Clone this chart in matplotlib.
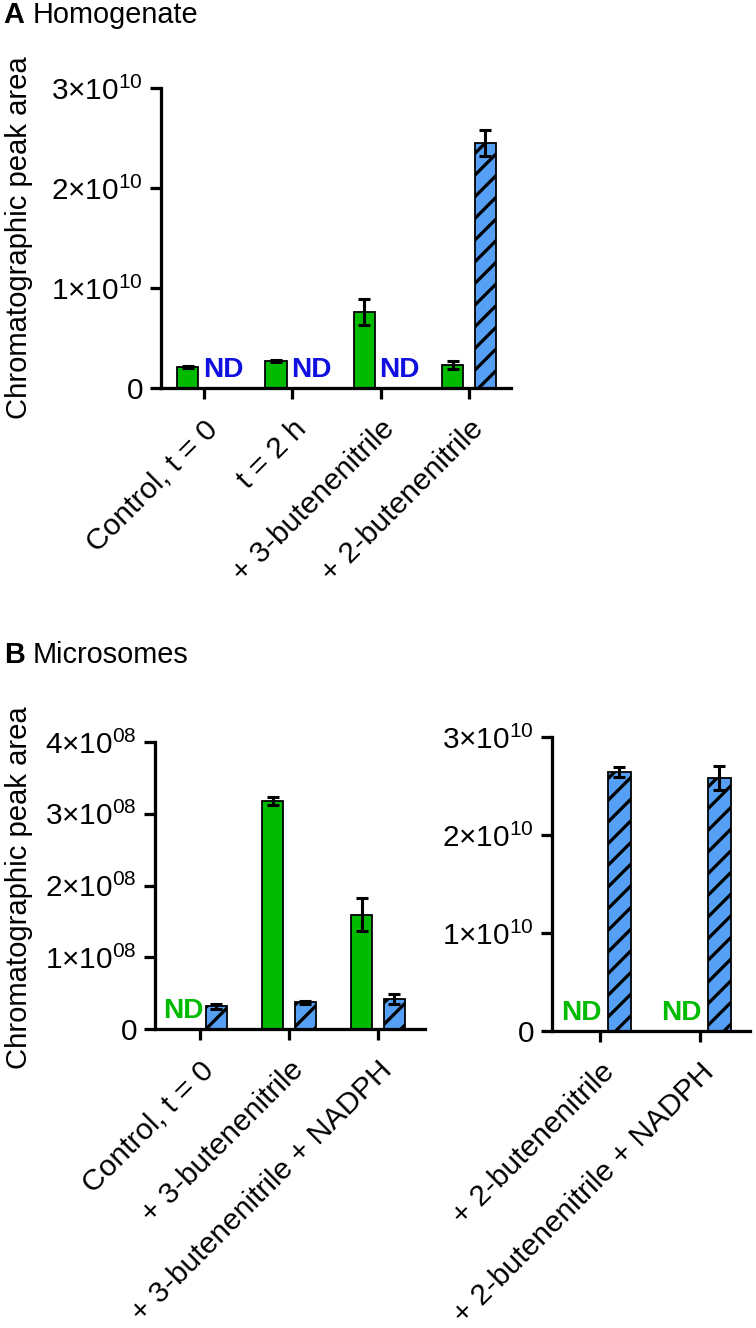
import numpy as np
import matplotlib
matplotlib.use("Agg")
import matplotlib.pyplot as plt

# ---------------- data ----------------
cats_A = ["Control, t = 0", "t = 2 h", "+ 3-butenenitrile", "+ 2-butenenitrile"]
green_A = [2.1e9, 2.7e9, 7.6e9, 2.33e9]
green_A_err = [0.12e9, 0.1e9, 1.3e9, 0.4e9]
blue_A = [np.nan, np.nan, np.nan, 2.45e10]
blue_A_err = [np.nan, np.nan, np.nan, 0.13e10]
yticks_A = [0, 1e10, 2e10, 3e10]
yticklabels_A = ["0", "1×10$^{10}$", "2×10$^{10}$", "3×10$^{10}$"]

cats_BL = ["Control, t = 0", "+ 3-butenenitrile", "+ 3-butenenitrile + NADPH"]
green_BL = [np.nan, 3.18e8, 1.59e8]
green_BL_err = [np.nan, 0.06e8, 0.23e8]
blue_BL = [0.32e8, 0.37e8, 0.42e8]
blue_BL_err = [0.035e8, 0.02e8, 0.07e8]
yticks_BL = [0, 1e8, 2e8, 3e8, 4e8]
yticklabels_BL = ["0", "1×10$^{08}$", "2×10$^{08}$", "3×10$^{08}$", "4×10$^{08}$"]

cats_BR = ["+ 2-butenenitrile", "+ 2-butenenitrile + NADPH"]
green_BR = [np.nan, np.nan]
green_BR_err = [np.nan, np.nan]
blue_BR = [2.64e10, 2.58e10]
blue_BR_err = [0.05e10, 0.12e10]
yticks_BR = [0, 1e10, 2e10, 3e10]
yticklabels_BR = ["0", "1×10$^{10}$", "2×10$^{10}$", "3×10$^{10}$"]

# ---------------- style ----------------
plt.rcParams['font.family'] = ['Liberation Sans', 'DejaVu Sans']
plt.rcParams['mathtext.fontset'] = 'custom'
plt.rcParams['mathtext.rm'] = 'Liberation Sans'
plt.rcParams['mathtext.it'] = 'Liberation Sans:italic'
plt.rcParams['mathtext.bf'] = 'Liberation Sans:bold'
plt.rcParams['mathtext.default'] = 'regular'
plt.rcParams['hatch.linewidth'] = 1.8

GREEN = '#00bb00'
BLUE = '#55a0f5'
ND_BLUE = '#1010e0'
ND_GREEN = '#00bb00'

DPI = 130
W, H = 756, 1328
fig = plt.figure(figsize=(W / DPI, H / DPI), dpi=DPI)

TICK_FS = 16.5
CAT_FS = 16.6
ND_FS = 15.5
YLAB_FS = 16.2


def px_axes(left, right, bottom, top):
    return fig.add_axes([left / W, 1 - bottom / H, (right - left) / W, (bottom - top) / H])


def draw_panel(ax, cats, green, green_err, blue, blue_err, yticks, yticklabels,
               xlim, nd_color, width=0.24, off=0.185):
    x = np.arange(len(cats))
    g = np.array(green, dtype=float)
    b = np.array(blue, dtype=float)
    ymax = yticks[-1]
    ekw = dict(fmt='none', ecolor='black', elinewidth=1.7, capsize=3.4, capthick=1.7,
               zorder=3, clip_on=False)
    for i in range(len(cats)):
        if not np.isnan(g[i]):
            ax.bar(x[i] - off, g[i], width, color=GREEN, edgecolor='black', linewidth=1.0, zorder=2)
            ax.errorbar(x[i] - off, g[i], yerr=green_err[i], **ekw)
        else:
            ax.annotate("ND", xy=(x[i] - off, 0), xytext=(0, 3), textcoords='offset points',
                        ha='center', va='bottom', fontsize=ND_FS, fontweight='bold', color=nd_color)
        if not np.isnan(b[i]):
            ax.bar(x[i] + off, b[i], width, color=BLUE, edgecolor='black', linewidth=1.0,
                   hatch='//', zorder=2)
            ax.errorbar(x[i] + off, b[i], yerr=blue_err[i], **ekw)
        else:
            ax.annotate("ND", xy=(x[i] + off + 0.03, 0), xytext=(0, 3), textcoords='offset points',
                        ha='center', va='bottom', fontsize=ND_FS, fontweight='bold', color=nd_color)
    ax.set_xlim(*xlim)
    ax.set_ylim(0, ymax)
    ax.set_yticks(yticks)
    ax.set_yticklabels(yticklabels, fontsize=TICK_FS)
    ax.set_xticks(x)
    ax.set_xticklabels(cats, fontsize=CAT_FS, rotation=45, ha='right', rotation_mode='anchor')
    for s in ['top', 'right']:
        ax.spines[s].set_visible(False)
    for s in ['left', 'bottom']:
        ax.spines[s].set_linewidth(1.8)
    ax.tick_params(axis='both', width=1.8, length=6, color='black')
    ax.tick_params(axis='y', pad=4)
    ax.tick_params(axis='x', pad=9)


axA = px_axes(161, 511, 388, 88)
draw_panel(axA, cats_A, green_A, green_A_err, blue_A, blue_A_err, yticks_A, yticklabels_A,
           xlim=(-0.487, 3.477), nd_color=ND_BLUE)

axBL = px_axes(155, 425, 1029, 742)
draw_panel(axBL, cats_BL, green_BL, green_BL_err, blue_BL, blue_BL_err, yticks_BL, yticklabels_BL,
           xlim=(-0.506, 2.528), nd_color=ND_GREEN)

axBR = px_axes(552, 750, 1031, 737)
draw_panel(axBR, cats_BR, green_BR, green_BR_err, blue_BR, blue_BR_err, yticks_BR, yticklabels_BR,
           xlim=(-0.48, 1.5), nd_color=ND_GREEN, width=0.23, off=0.19)

# y labels
fig.text(19 / W, 1 - 238 / H, "Chromatographic peak area", rotation=90, ha='center', va='center',
         fontsize=YLAB_FS)
fig.text(19 / W, 1 - 888 / H, "Chromatographic peak area", rotation=90, ha='center', va='center',
         fontsize=YLAB_FS)

# panel titles
fig.text(3 / W, 1 - 23 / H, "A", fontsize=16, fontweight='bold', va='baseline', ha='left')
fig.text(33 / W, 1 - 23 / H, "Homogenate", fontsize=16, va='baseline', ha='left')
fig.text(4 / W, 1 - 663 / H, "B", fontsize=16, fontweight='bold', va='baseline', ha='left')
fig.text(33 / W, 1 - 663 / H, "Microsomes", fontsize=16, va='baseline', ha='left')

fig.savefig("out.png", dpi=DPI)
